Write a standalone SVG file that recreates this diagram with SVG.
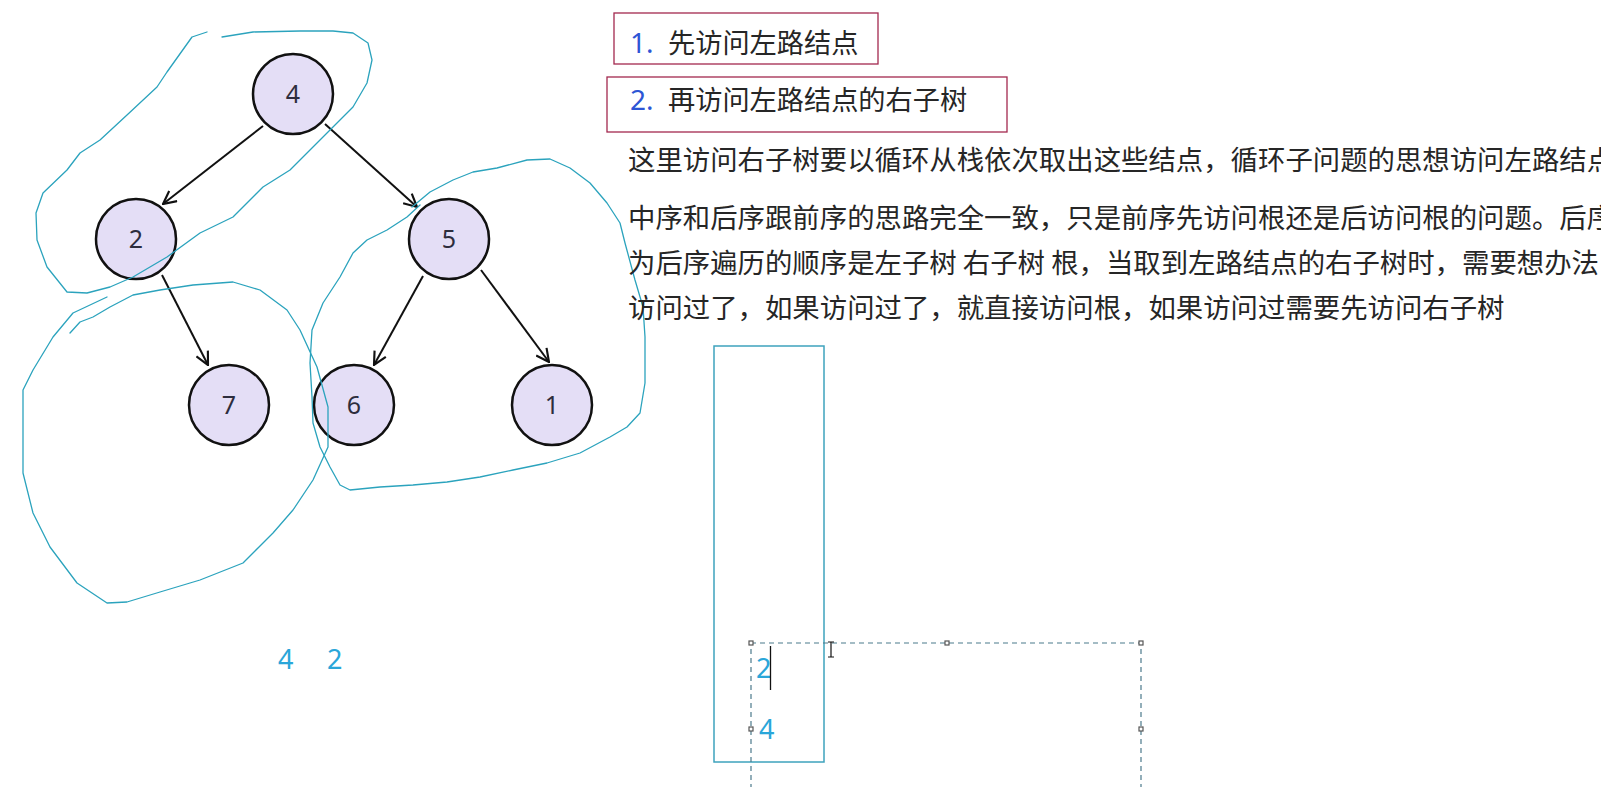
<svg xmlns="http://www.w3.org/2000/svg" width="1601" height="787" viewBox="0 0 1601 787">
<style>
.node circle{fill:#e4def6;stroke:#111;stroke-width:2.5}
.node text{font-family:"Noto Sans","DejaVu Sans",sans-serif;font-size:25px;fill:#2d2d3d;text-anchor:middle}
.edge{stroke:#111;stroke-width:2;fill:none;marker-end:url(#arr)}
.ink{fill:none;stroke:#2ba3bd;stroke-width:1.3;stroke-linejoin:round;stroke-linecap:round}
.cjk{font-family:"Noto Sans CJK SC","Noto Sans",sans-serif;font-size:27.2px;fill:#262626}
.body{font-size:27.4px}
.num{font-family:"Noto Sans","Noto Sans CJK SC",sans-serif;font-size:28px;fill:#2d55d5}
.box{fill:none;stroke:#a3294f;stroke-width:1.3}
.blue{font-family:"Noto Sans","DejaVu Sans",sans-serif;font-size:27px;fill:#2aa6d9}
.sel{fill:none;stroke:#4b7a8c;stroke-width:1.2;stroke-dasharray:5 4}
.h{fill:#fff;stroke:#555;stroke-width:1.2}
</style>
<defs>
<marker id="arr" viewBox="0 0 14 14" refX="13" refY="7" markerWidth="15" markerHeight="15" markerUnits="userSpaceOnUse" orient="auto">
<path d="M1,1 L13,7 L1,13" fill="none" stroke="#111" stroke-width="2"/>
</marker>
</defs>
<rect width="1601" height="787" fill="#fff"/>

<g id="connectors">
<line class="edge" x1="263" y1="126" x2="163" y2="204"/>
<line class="edge" x1="325" y1="124" x2="417" y2="207"/>
<line class="edge" x1="162" y1="275" x2="208" y2="365"/>
<line class="edge" x1="423" y1="276" x2="374" y2="365"/>
<line class="edge" x1="481" y1="270" x2="549" y2="362"/>
</g>

<g id="node-4" class="node"><circle cx="293" cy="94" r="40"/><text x="293" y="103">4</text></g>
<g id="node-2" class="node"><circle cx="136" cy="239" r="40"/><text x="136" y="248">2</text></g>
<g id="node-5" class="node"><circle cx="449" cy="239" r="40"/><text x="449" y="248">5</text></g>
<g id="node-7" class="node"><circle cx="229" cy="405" r="40"/><text x="229" y="414">7</text></g>
<g id="node-6" class="node"><circle cx="354" cy="405" r="40"/><text x="354" y="414">6</text></g>
<g id="node-1" class="node"><circle cx="552" cy="405" r="40"/><text x="552" y="414">1</text></g>

<g id="ink">
<polyline class="ink" points="222,37 253,32 300,31 333,31 353,33 368,43 372,60 367,83 353,107 333,127 313,147 290,170 263,187 233,217 200,233 167,257 133,277 110,287 87,293 67,292 47,267 37,240 36,213 43,193 67,170 80,153 100,140 127,115 157,87 167,72 192,37 207,32"/>
<polyline class="ink" points="412,207 430,192 453,180 473,172 497,168 527,160 550,159 570,168 590,183 607,203 620,223 625,243 635,280 643,307 645,337 645,383 640,413 627,427 610,437 580,453 547,463 513,470 480,477 447,482 413,485 380,487 350,490 340,485 330,467 320,447 313,423 312,397 310,363 312,330 323,303 340,277 353,253 367,240 387,230 407,217 420,205"/>
<polyline class="ink" points="107,297 73,313 53,337 33,370 23,390 23,473 33,513 50,547 77,583 107,603 127,602 160,592 200,580 243,563 273,533 293,510 313,480 328,447 328,407 317,367 300,330 287,310 260,290 233,282 193,285 160,290 133,295 110,307 93,317 80,322 70,333"/>
</g>

<g id="step-1">
<rect class="box" x="614" y="13" width="264" height="51"/>
<text class="num" x="630" y="53">1.</text>
<text class="cjk" x="668" y="53">先访问左路结点</text>
</g>
<g id="step-2">
<rect class="box" x="607" y="77" width="400" height="55"/>
<text class="num" x="630" y="110">2.</text>
<text class="cjk" x="668" y="110">再访问左路结点的右子树</text>
</g>

<g id="notes" class="cjk body">
<text x="628" y="170">这里访问右子树要以循环从栈依次取出这些结点，循环子问题的思想访问左路结点</text>
<text x="628" y="228">中序和后序跟前序的思路完全一致，只是前序先访问根还是后访问根的问题。后序</text>
<text x="628" y="273">为后序遍历的顺序是左子树 右子树 根，当取到左路结点的右子树时，需要想办法</text>
<text x="628" y="318">访问过了，如果访问过了，就直接访问根，如果访问过需要先访问右子树</text>
</g>

<g id="sequence">
<text class="blue" x="278" y="669">4</text>
<text class="blue" x="327" y="669">2</text>
</g>

<g id="stack">
<rect x="714" y="346" width="110" height="416" fill="none" stroke="#3ea3bd" stroke-width="1.5"/>
<rect class="sel" x="751" y="643" width="390" height="160"/>
<rect class="h" x="749" y="641" width="4" height="4"/>
<rect class="h" x="945" y="641" width="4" height="4"/>
<rect class="h" x="1139" y="641" width="4" height="4"/>
<rect class="h" x="749" y="727" width="4" height="4"/>
<rect class="h" x="1139" y="727" width="4" height="4"/>
<text class="blue" x="756" y="678">2</text>
<line x1="770.5" y1="646" x2="770.5" y2="690" stroke="#111" stroke-width="1.3"/>
<text class="blue" x="759" y="739">4</text>
<path d="M828,642 H834 M831,642 V657 M828,657 H834" stroke="#111" stroke-width="1.2" fill="none"/>
</g>
</svg>
